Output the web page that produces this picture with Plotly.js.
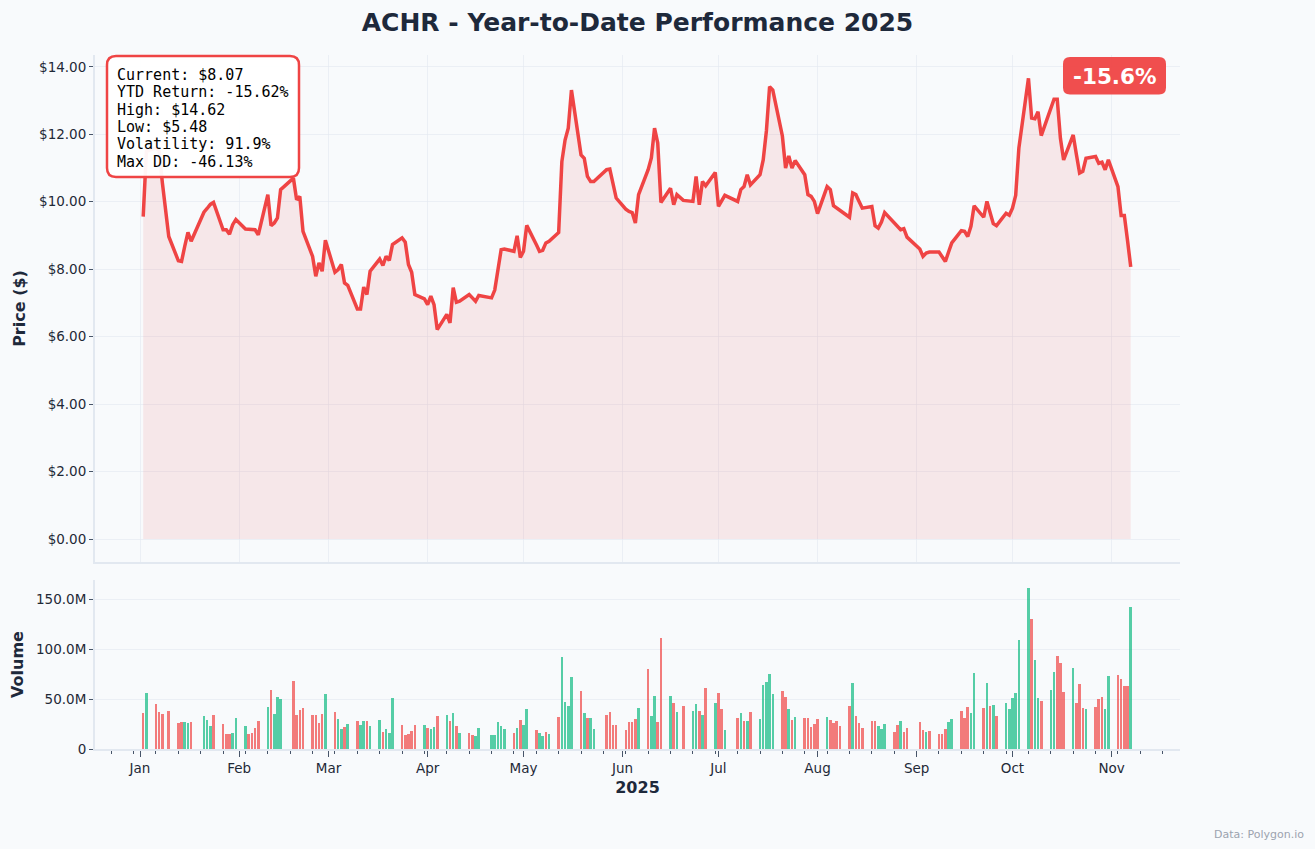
<!DOCTYPE html>
<html>
<head>
<meta charset="utf-8">
<script src="https://cdn.plot.ly/plotly-3.0.1.min.js"></script>
<style>
  html, body { margin: 0; padding: 0; background: #f8fafc; }
  #chart { width: 1315px; height: 849px; }
</style>
</head>
<body>
<div id="chart"></div>
<script>
// trading sessions (day of month), one row per month Jan..Nov 2025
const sessionDays = [
  [2,3,6,7,8,10,13,14,15,16,17,21,22,23,24,27,28,29,30,31],
  [3,4,5,6,7,10,11,12,13,14,18,19,20,21,24,25,26,27,28],
  [3,4,5,6,7,10,11,12,13,14,17,18,19,20,21,24,25,26,27,28,31],
  [1,2,3,4,7,8,9,10,11,14,15,16,17,21,22,23,24,25,28,29,30],
  [1,2,5,6,7,8,9,12,13,14,15,16,19,20,21,22,23,27,28,29,30],
  [2,3,4,5,6,9,10,11,12,13,16,17,18,20,23,24,25,26,27,30],
  [1,2,3,7,8,9,10,11,14,15,16,17,18,21,22,23,24,25,28,29,30,31],
  [1,4,5,6,7,8,11,12,13,14,15,18,19,20,21,22,25,26,27,28,29],
  [2,3,4,5,8,9,10,11,12,15,16,17,18,19,22,23,24,25,26,29,30],
  [1,2,3,6,7,8,9,10,13,14,15,16,17,20,21,22,23,24,27,28,29,30,31],
  [3,4,5,6,7]
];

// closing price ($)
const closeByMonth = [
  [9.56,11.49,11.60,11.50,10.56,8.97,8.25,8.23,8.68,9.09,8.83,9.69,9.80,9.92,9.98,9.17,9.17,9.04,9.32,9.47],
  [9.19,9.18,9.17,9.17,9.02,10.21,9.29,9.37,9.52,10.36,10.70,10.06,10.16,9.12,8.38,7.79,8.19,7.94,8.86],
  [7.91,7.99,8.14,7.59,7.52,6.82,6.82,7.47,7.25,7.94,8.30,8.11,8.38,8.26,8.73,8.93,8.80,8.14,7.91,7.25,7.12],
  [6.95,7.20,6.95,6.21,6.66,6.41,7.45,7.02,7.05,7.25,7.15,7.05,7.22,7.15,7.38,7.99,8.58,8.60,8.53,8.99,8.35],
  [8.53,9.30,8.73,8.53,8.56,8.78,8.83,9.09,11.19,11.83,12.18,13.31,11.39,11.29,10.75,10.60,10.60,10.95,10.97,10.55,10.11],
  [9.78,9.71,9.68,9.37,10.21,10.95,11.30,12.18,11.74,9.98,10.40,9.91,10.21,10.04,10.01,10.75,9.91,10.60,10.47,10.87],
  [9.86,10.04,10.19,10.01,10.36,10.45,10.80,10.50,10.80,11.24,12.10,13.41,13.31,11.95,11.00,11.36,11.00,11.22,10.80,10.21,10.16,10.01],
  [9.65,10.45,10.36,9.88,9.81,9.74,9.54,10.26,10.21,10.01,9.81,9.86,9.29,9.22,9.40,9.68,9.36,9.25,9.17,9.20,8.95],
  [8.60,8.38,8.48,8.51,8.51,8.38,8.23,8.51,8.78,9.14,9.12,8.97,9.27,9.88,9.54,10.01,9.66,9.35,9.29,9.66,9.60],
  [9.81,10.19,11.59,13.66,12.48,12.46,12.67,11.96,12.83,13.04,13.04,11.88,11.24,11.98,11.40,10.85,10.90,11.29,11.34,11.14,11.17,10.95,11.24],
  [10.45,9.59,9.59,8.85,8.07]
];

// volume (millions of shares)
const volumeByMonth = [
  [36,56,45,37,35,38,26,27,27,26,27,33,29,23,34,25,15,15,16,31],
  [23,15,16,21,28,42,59,35,52,50,68,34,39,41,34,34,26,35,55],
  [37,30,20,22,25,28,24,28,28,23,29,17,20,16,51,24,14,15,18,24,24],
  [21,20,22,33,34,28,36,23,16,16,14,13,21,14,14,27,23,20,16,21,29],
  [24,40,19,16,13,17,15,32,92,47,43,72,58,36,31,31,20,34,37,24,24],
  [19,27,27,30,41,80,33,53,27,111,53,46,37,43,38,45,38,34,61,46],
  [56,40,19,31,36,28,28,37,30,64,67,75,55,58,52,40,29,32,31,31,22,25],
  [30,32,29,26,28,23,43,66,33,26,21,28,28,23,20,25,17,24,28,17,21],
  [27,19,17,18,15,15,20,27,30,38,31,42,36,76,41,66,43,44,33,46,40],
  [51,56,109,161,130,89,51,48,59,77,93,86,57,81,46,65,41,40,42,50,52,40,73],
  [74,70,63,63,142]
];

// 1 = closed above the open, 0 = closed below
const upByMonth = [
  [0,1,0,0,0,0,0,0,1,1,0,1,1,1,0,0,0,0,1,1],
  [1,0,0,0,0,1,0,1,1,1,0,0,0,0,0,0,0,0,1],
  [0,1,1,0,1,0,1,1,0,1,1,0,1,1,1,0,0,0,0,0,1],
  [0,1,1,0,1,0,1,0,1,0,0,1,1,1,1,1,1,1,0,1,0],
  [1,1,0,1,1,0,1,0,1,1,1,1,0,1,0,1,1,0,0,0,0],
  [0,0,0,0,1,0,1,1,0,0,1,0,1,0,1,1,0,1,0,1],
  [0,0,1,0,1,0,1,0,1,1,1,1,1,0,0,1,0,1,0,0,0,0],
  [0,1,0,0,0,0,0,1,0,0,0,0,0,1,1,1,0,0,1,0,0],
  [0,0,1,0,0,0,0,1,1,0,0,0,1,1,0,1,0,1,0,1,1],
  [1,1,1,1,0,1,1,0,1,1,0,0,0,1,0,0,0,1,0,0,0,1,1],
  [0,0,0,0,1]
];

const priceTicks = [0, 2, 4, 6, 8, 10, 12, 14];
const volumeTicks = [0, 50, 100, 150];
const volumeTickText = ['0', '50.0M', '100.0M', '150.0M'];
const monthStarts = ['2025-01-01','2025-02-01','2025-03-01','2025-04-01','2025-05-01','2025-06-01',
                     '2025-07-01','2025-08-01','2025-09-01','2025-10-01','2025-11-01'];
const monthLabels = ['Jan','Feb','Mar','Apr','May','Jun','Jul','Aug','Sep','Oct','Nov'];

const infoLines = ['Current: $8.07', 'YTD Return: -15.62%', 'High: $14.62', 'Low: $5.48',
                   'Volatility: 91.9%', 'Max DD: -46.13%'];
const badgeText = '-15.6%';

// build flat series
const pad = n => String(n).padStart(2, '0');
const dates = [];
sessionDays.forEach((days, m) => days.forEach(d => dates.push(`2025-${pad(m + 1)}-${pad(d)}`)));
const closes = closeByMonth.flat();
const volumes = volumeByMonth.flat();
const ups = upByMonth.flat();

const RED = '#ef4444';
const GREEN_BAR = 'rgba(16,185,129,0.7)';
const RED_BAR = 'rgba(239,68,68,0.7)';
const GRID = 'rgba(226,232,240,0.6)';
const SPINE = '#e2e8f0';
const INK = '#1f2937';

// page pixel -> paper coords (plot area 95..1180 x 55..749)
const L = 95, R = 1180, T = 55, B = 749;
const px = x => (x - L) / (R - L);
const py = y => (B - y) / (B - T);

function roundRect(x0, y0, x1, y1, r) {
  const rx = r / (R - L), ry = r / (B - T);
  const a = px(x0), b = px(x1), top = py(y0), bot = py(y1);
  return `M ${a + rx},${top} L ${b - rx},${top} Q ${b},${top} ${b},${top - ry} ` +
         `L ${b},${bot + ry} Q ${b},${bot} ${b - rx},${bot} L ${a + rx},${bot} ` +
         `Q ${a},${bot} ${a},${bot + ry} L ${a},${top - ry} Q ${a},${top} ${a + rx},${top} Z`;
}

const xRange = ['2024-12-17 22:00', '2025-11-22 10:00'];

const priceTrace = {
  x: dates, y: closes,
  type: 'scatter', mode: 'lines',
  line: { color: RED, width: 3.5 },
  fill: 'tozeroy', fillcolor: 'rgba(239,68,68,0.1)',
  xaxis: 'x', yaxis: 'y',
  hoverinfo: 'skip'
};

const volumeTrace = {
  x: dates, y: volumes,
  type: 'bar',
  width: 0.8 * 86400000,
  marker: { color: ups.map(u => u ? GREEN_BAR : RED_BAR), line: { width: 0 } },
  xaxis: 'x2', yaxis: 'y2',
  hoverinfo: 'skip'
};

const tickFont = { family: 'DejaVu Sans', size: 13.5, color: INK };
const axisTitleFont = { family: 'DejaVu Sans', size: 16, color: '#1e293b' };

const annotations = infoLines.map((t, i) => ({
  xref: 'paper', yref: 'paper',
  x: px(115), y: py(75 + i * 17.3),
  xanchor: 'left', yanchor: 'middle',
  text: t, showarrow: false,
  font: { family: 'DejaVu Sans Mono', size: 15, color: '#000' }
}));
annotations.push({
  xref: 'paper', yref: 'paper', x: px(1114.7), y: py(76.5),
  xanchor: 'center', yanchor: 'middle', showarrow: false,
  text: '<b>' + badgeText + '</b>',
  font: { family: 'DejaVu Sans', size: 21.5, color: '#ffffff' }
});
annotations.push({
  xref: 'paper', yref: 'paper', x: px(1306), y: py(834),
  xanchor: 'right', yanchor: 'middle', showarrow: false,
  text: 'Data: Polygon.io',
  font: { family: 'DejaVu Sans', size: 11, color: '#9ca3af' }
});

const layout = {
  width: 1315, height: 849,
  margin: { l: L, r: 1315 - R, t: T, b: 849 - B },
  paper_bgcolor: '#f8fafc', plot_bgcolor: '#f8fafc',
  font: { family: 'DejaVu Sans', color: INK },
  showlegend: false,
  bargap: 0,
  title: {
    text: '<b>ACHR - Year-to-Date Performance 2025</b>',
    font: { family: 'DejaVu Sans', size: 25, color: '#1e293b' },
    x: 0.5, xref: 'paper', xanchor: 'center',
    y: 1 - 22 / 849, yref: 'container', yanchor: 'middle'
  },
  xaxis: {
    anchor: 'y', type: 'date', range: xRange,
    showticklabels: false, ticks: '',
    tick0: '2025-01-01', dtick: 'M1',
    showgrid: true, gridcolor: GRID, gridwidth: 1,
    showline: true, linecolor: SPINE, linewidth: 2,
    zeroline: false
  },
  yaxis: {
    domain: [py(562), 1], range: [-0.68, 14.35],
    tickmode: 'array', tickvals: priceTicks,
    ticktext: priceTicks.map(v => '$' + v.toFixed(2)),
    ticks: 'outside', ticklen: 4, tickcolor: '#475569', tickwidth: 1,
    tickfont: tickFont,
    showgrid: true, gridcolor: GRID, gridwidth: 1,
    showline: true, linecolor: SPINE, linewidth: 2,
    zeroline: false,
    title: { text: '<b>Price ($)</b>', font: axisTitleFont, standoff: 9 }
  },
  xaxis2: {
    anchor: 'y2', type: 'date', range: xRange,
    tickmode: 'array', tickvals: monthStarts, ticktext: monthLabels,
    ticks: 'outside', ticklen: 6, tickcolor: '#475569', tickwidth: 1,
    tickfont: tickFont,
    minor: { ticks: 'outside', ticklen: 3, tickcolor: '#475569', tickmode: 'linear',
             tick0: '2024-12-30', dtick: 7 * 86400000, showgrid: false },
    showgrid: false,
    showline: true, linecolor: SPINE, linewidth: 2,
    zeroline: false,
    title: { text: '<b>2025</b>', font: axisTitleFont, standoff: 7 }
  },
  yaxis2: {
    domain: [0, py(580)], range: [0, 169],
    tickmode: 'array', tickvals: volumeTicks, ticktext: volumeTickText,
    ticks: 'outside', ticklen: 4, tickcolor: '#475569', tickwidth: 1,
    tickfont: tickFont,
    showgrid: true, gridcolor: GRID, gridwidth: 1,
    showline: true, linecolor: SPINE, linewidth: 2,
    zeroline: false,
    title: { text: '<b>Volume</b>', font: axisTitleFont, standoff: 8 }
  },
  shapes: [
    { type: 'path', xref: 'paper', yref: 'paper', layer: 'above',
      path: roundRect(107, 56, 299, 177, 9),
      fillcolor: 'rgba(255,255,255,0.95)', line: { color: RED, width: 2.5 } },
    { type: 'path', xref: 'paper', yref: 'paper', layer: 'above',
      path: roundRect(1063, 57, 1166, 94.5, 7),
      fillcolor: 'rgba(239,68,68,0.95)', line: { width: 0 } }
  ],
  annotations: annotations
};

Plotly.newPlot('chart', [priceTrace, volumeTrace], layout, { displayModeBar: false, responsive: false });
</script>
</body>
</html>
